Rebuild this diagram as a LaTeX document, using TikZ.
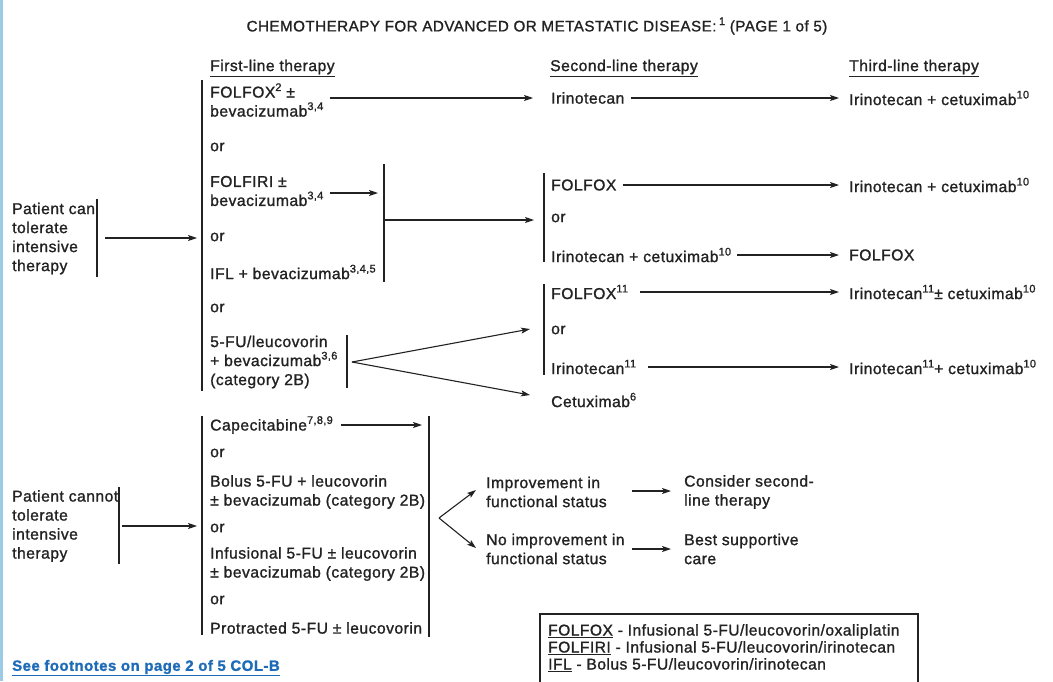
\documentclass[tikz,border=0pt]{standalone}
\usepackage{fontspec}
\setmainfont[LetterSpace=3.0,FakeBold=1.2]{Liberation Sans}
\usetikzlibrary{arrows.meta,calc}
\definecolor{ink}{HTML}{222222}
\definecolor{linkblue}{HTML}{1E6BB8}
\definecolor{edgeblue}{HTML}{9CCBE6}
\newcommand\spr[1]{\raisebox{0.42em}{\fontsize{11}{11}\selectfont #1}}
\newcommand\mainsz{\fontsize{15.7}{19}\selectfont}
\newcommand\boxsz{\fontsize{15.6}{17}\selectfont}
\tikzset{
  txt/.style={inner sep=0pt, anchor=west, align=left, font=\mainsz, text=ink},
  hdr/.style={txt},
  conn/.style={draw=ink, line width=1.1pt, -{Stealth[length=9pt,width=6pt,inset=2pt]}},
  bar/.style={draw=ink, line width=1.1pt},
}
\begin{document}
\begin{tikzpicture}[x=1pt,y=-1pt]
\useasboundingbox (0,0) rectangle (1053,681);
\fill[white] (0,0) rectangle (1053,681);
\fill[edgeblue] (0,0) rectangle (3,681);

% title and headers
\node[txt, anchor=center, font=\fontsize{15.2}{18}\selectfont] (title) at (537,26) {CHEMOTHERAPY FOR ADVANCED OR METASTATIC DISEASE:\,\spr{1} (PAGE 1 of 5)};
\node[hdr] (h1) at (210,68) {\underline{First-line therapy}};
\node[hdr] (h2) at (550,68) {\underline{Second-line therapy}};
\node[hdr] (h3) at (849,68) {\underline{Third-line therapy}};

% ---------- upper block
\node[txt] (pc) at (12,238.5) {Patient can\\tolerate\\intensive\\therapy};
\coordinate (pcb1) at (97,199);
\coordinate (pcb2) at (97,277);
\draw[bar] (pcb1) -- (pcb2);
\coordinate (pca) at (105,238);
\coordinate (fb1) at (202,80);
\coordinate (fb2) at (202,391);
\draw[bar] (fb1) -- (fb2);
\draw[conn] (pca) -- ($(fb1|-pca)+(-5,0)$);

\node[txt] (f1) at (210,100) {FOLFOX\spr{2} ±\\bevacizumab\spr{3,4}};
\node[txt] (o1) at (210,147) {or};
\node[txt] (f2) at (210,191) {FOLFIRI ±\\bevacizumab\spr{3,4}};
\node[txt] (o2) at (210,237) {or};
\node[txt] (f3) at (210,272) {IFL + bevacizumab\spr{3,4,5}};
\node[txt] (o3) at (210,308) {or};
\node[txt] (f4) at (210,362) {5-FU/leucovorin\\+ bevacizumab\spr{3,6}\\(category 2B)};

\coordinate (gb1) at (384,164);
\coordinate (gb2) at (384,282);
\draw[bar] (gb1) -- (gb2);
\coordinate (gm) at (384,220);
\coordinate (vb1) at (347,335);
\coordinate (vb2) at (347,388);
\draw[bar] (vb1) -- (vb2);
\coordinate (apex) at (352,362);

% second line
\node[txt] (s1) at (551,98) {Irinotecan};
\node[txt] (t1) at (849,98) {Irinotecan + cetuximab\spr{10}};
\node[txt] (s2) at (551,185) {FOLFOX};
\node[txt] (t2) at (849,185) {Irinotecan + cetuximab\spr{10}};
\node[txt] (so1) at (551,218) {or};
\node[txt] (s3) at (551,255) {Irinotecan + cetuximab\spr{10}};
\node[txt] (t3) at (849,255) {FOLFOX};
\node[txt] (s4) at (551,292) {FOLFOX\spr{11}};
\node[txt] (t4) at (849,292) {Irinotecan\spr{11}± cetuximab\spr{10}};
\node[txt] (so2) at (551,330) {or};
\node[txt] (s5) at (551,367) {Irinotecan\spr{11}};
\node[txt] (t5) at (849,367) {Irinotecan\spr{11}+ cetuximab\spr{10}};
\node[txt] (s6) at (551,400) {Cetuximab\spr{6}};

\coordinate (sb1) at (544,173);
\coordinate (sb2) at (544,262);
\draw[bar] (sb1) -- (sb2);
\coordinate (sb3) at (544,284);
\coordinate (sb4) at (544,375);
\draw[bar] (sb3) -- (sb4);

\draw[conn] ($(f1.east)+(6,-2)$) -- ($(s1.west)+(-18,0)$);
\draw[conn] ($(s1.east)+(6,0)$) -- ($(t1.west)+(-10,0)$);
\draw[conn] ($(f2.east)+(6,2)$) -- ($(gb1|-f2)+(-6,2)$);
\draw[conn] (gm) -- ($(sb1|-gm)+(-10,0)$);
\draw[conn] ($(s2.east)+(6,0)$) -- ($(t2.west)+(-10,0)$);
\draw[conn] ($(s3.east)+(6,0)$) -- ($(t3.west)+(-10,0)$);
\draw[conn] ($(s4.east)+(12,0)$) -- ($(t4.west)+(-10,0)$);
\draw[conn] ($(s5.east)+(12,0)$) -- ($(t5.west)+(-10,0)$);
\draw[conn] (apex) -- ($(so2.west)+(-21,-1)$);
\draw[conn] (apex) -- ($(s6.west)+(-21,-5)$);

% ---------- lower block
\node[txt] (pn) at (12,526) {Patient cannot\\tolerate\\intensive\\therapy};
\coordinate (pnb1) at (119,487);
\coordinate (pnb2) at (119,564);
\draw[bar] (pnb1) -- (pnb2);
\coordinate (pna) at (122,526);
\coordinate (lb1) at (202,416);
\coordinate (lb2) at (202,635);
\draw[bar] (lb1) -- (lb2);
\draw[conn] (pna) -- ($(lb1|-pna)+(-5,0)$);

\node[txt] (c1) at (210,425) {Capecitabine\spr{7,8,9}};
\node[txt] (co1) at (210,453) {or};
\node[txt] (c2) at (210,492) {Bolus 5-FU + leucovorin\\± bevacizumab (category 2B)};
\node[txt] (co2) at (210,528) {or};
\node[txt] (c3) at (210,564) {Infusional 5-FU ± leucovorin\\± bevacizumab (category 2B)};
\node[txt] (co3) at (210,600) {or};
\node[txt] (c4) at (210,628) {Protracted 5-FU ± leucovorin};

\coordinate (rb1) at (429,416);
\coordinate (rb2) at (429,637);
\draw[bar] (rb1) -- (rb2);
\draw[conn] ($(c1.east)+(8,0)$) -- ($(rb1|-c1)+(-7,0)$);
\coordinate (apex2) at (439,518);

\node[txt] (i1) at (486,492) {Improvement in\\functional status};
\node[txt] (i2) at (486,549) {No improvement in\\functional status};
\node[txt] (r1) at (684,492) {Consider second-\\line therapy};
\node[txt] (r2) at (684,549) {Best supportive\\care};
\draw[conn] (apex2) -- ($(i1.west)+(-10,-2)$);
\draw[conn] (apex2) -- ($(i2.west)+(-10,-1)$);
\draw[conn] (632,491) coordinate (a1) -- ($(r1.west)+(-13,-1)$);
\draw[conn] (632,549) coordinate (a2) -- ($(r2.west)+(-13,0)$);

% legend box
\draw[draw=ink, line width=1.1pt] (540,614) rectangle (918,700);
\node[txt, anchor=north west, font=\boxsz] (legend) at (548,624)
  {\underline{FOLFOX} - Infusional 5-FU/leucovorin/oxaliplatin\\
   \underline{FOLFIRI} - Infusional 5-FU/leucovorin/irinotecan\\
   \underline{IFL} - Bolus 5-FU/leucovorin/irinotecan};

% footnote link
\node[txt, text=linkblue, font=\fontsize{15}{18}\selectfont\bfseries] (foot) at (12,668) {\underline{See footnotes on page 2 of 5 COL-B}};
\end{tikzpicture}
\end{document}
